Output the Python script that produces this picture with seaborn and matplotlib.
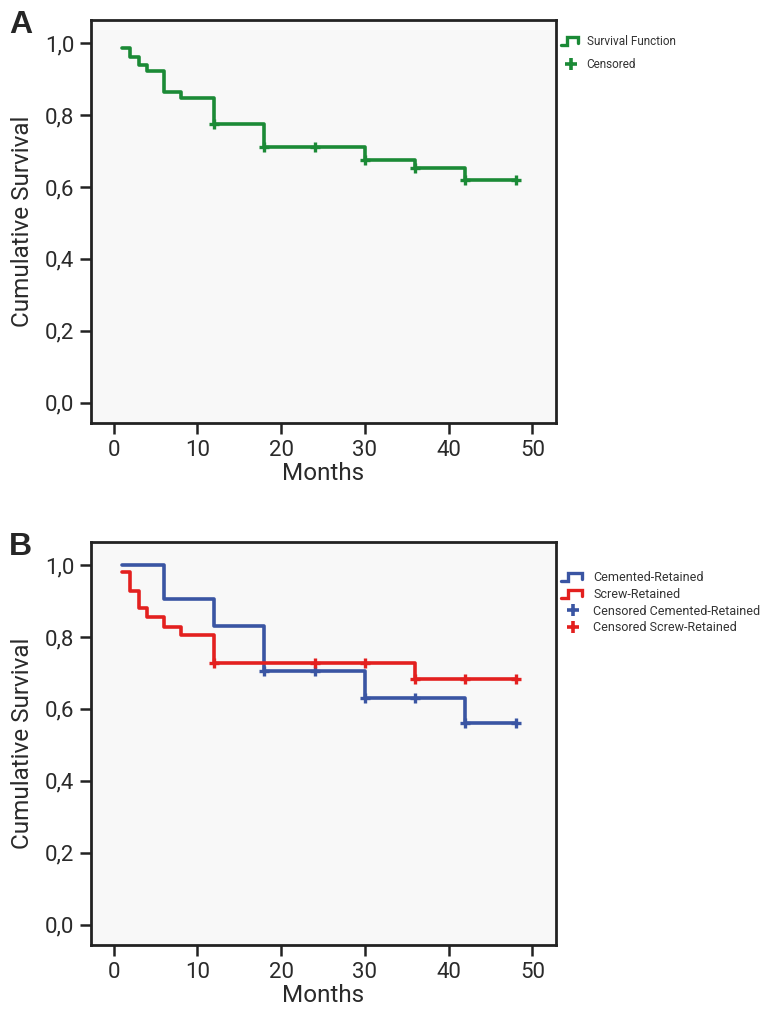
import numpy as np
import pandas as pd
import matplotlib
matplotlib.use("Agg")
import matplotlib.pyplot as plt
import seaborn as sns
from matplotlib.lines import Line2D
from matplotlib.legend_handler import HandlerBase
from matplotlib.ticker import FuncFormatter

# ---------------------------- DATA ------------------------------------

# Panel A: overall survival (step starts, survival after each step)
a_times = [1, 2, 3, 4, 6, 8, 12, 18, 30, 36, 42, 48]
a_surv = [0.985, 0.96, 0.94, 0.923, 0.863, 0.848, 0.775, 0.711, 0.675, 0.654, 0.618, 0.618]
a_censored = [12, 18, 24, 30, 36, 42, 48]

# Panel B: cemented vs screw retained
cem_times = [1, 6, 12, 18, 30, 42, 48]
cem_surv = [1.0, 0.906, 0.83, 0.704, 0.63, 0.56, 0.56]
cem_censored = [18, 24, 30, 36, 42, 48]

scr_times = [1, 2, 3, 4, 6, 8, 12, 36, 48]
scr_surv = [0.981, 0.929, 0.88, 0.855, 0.829, 0.806, 0.728, 0.684, 0.684]
scr_censored = [12, 24, 30, 36, 42, 48]

x_ticks = [0, 10, 20, 30, 40, 50]
y_ticks = [0.0, 0.2, 0.4, 0.6, 0.8, 1.0]

GREEN = "#1b8a36"
BLUE = "#3a55a3"
RED = "#e3201f"
TEXT = "#2a2a2a"
WEIGHT = "normal"


# ---------------------------- HELPERS ---------------------------------


class StepHandler(HandlerBase):
    """Legend icon shaped like a little survival step."""

    def create_artists(self, legend, orig_handle, xdescent, ydescent,
                       width, height, fontsize, trans):
        w, h = width * 0.85, height
        xs = np.array([0, 0.35 * w, 0.35 * w, w, w]) - xdescent
        ys = np.array([0.0, 0.0, 0.95 * h, 0.95 * h, 0.25 * h]) - ydescent
        line = Line2D(xs, ys, color=orig_handle.get_color(), lw=2.4,
                      solid_joinstyle="miter", transform=trans)
        return [line]


def surv_at(times, surv, t):
    idx = np.searchsorted(times, t, side="right") - 1
    return surv[idx]


def draw_curve(ax, times, surv, censored, color):
    df = pd.DataFrame({"Months": times, "Survival": surv})
    sns.lineplot(data=df, x="Months", y="Survival", ax=ax, color=color,
                 lw=2.6, drawstyle="steps-post", estimator=None, sort=False)
    cens = pd.DataFrame({"Months": censored,
                         "Survival": [surv_at(times, surv, t) for t in censored]})
    ax.plot(cens["Months"], cens["Survival"], ls="none", marker="+",
            ms=6.5, mew=2.4, color=color)


def style_axes(ax):
    ax.set_facecolor("#f8f8f8")
    ax.set_xlim(-2.7, 52.8)
    ax.set_ylim(-0.056, 1.064)
    ax.set_xticks(x_ticks)
    ax.set_yticks(y_ticks)
    ax.yaxis.set_major_formatter(FuncFormatter(lambda v, p: f"{v:.1f}".replace(".", ",")))
    ax.tick_params(bottom=True, left=True, direction="out", length=8, width=1.8,
                   labelsize=16, labelcolor=TEXT, color="#222222", pad=4)
    for lab in ax.get_xticklabels() + ax.get_yticklabels():
        lab.set_fontweight(WEIGHT)
    for sp in ax.spines.values():
        sp.set_visible(True)
        sp.set_linewidth(2)
        sp.set_color("#222222")
    ax.set_xlabel("Months", fontsize=17.5, color=TEXT, labelpad=1, fontweight=WEIGHT)
    ax.set_ylabel("Cumulative Survival", fontsize=17.5, color=TEXT, labelpad=8,
                  fontweight=WEIGHT)


# ------------------------------ PLOT ----------------------------------

sns.set_style("white")
plt.rcParams["font.family"] = ["Roboto", "Liberation Sans", "DejaVu Sans"]

fig = plt.figure(figsize=(7.62, 10.10), dpi=100)
ax_a = fig.add_axes([0.1194, 0.5812, 0.6102, 0.399])
ax_b = fig.add_axes([0.1194, 0.0644, 0.6102, 0.399])

# Panel A
draw_curve(ax_a, a_times, a_surv, a_censored, GREEN)
style_axes(ax_a)
handles_a = [Line2D([], [], color=GREEN),
             Line2D([], [], color=GREEN, ls="none", marker="+", ms=8, mew=2.6)]
leg_a = ax_a.legend(handles_a, ["Survival Function", "Censored"],
                    handler_map={handles_a[0]: StepHandler()},
                    loc="upper left", bbox_to_anchor=(1.0, 0.975), frameon=False,
                    prop={"size": 8.5}, handlelength=1.7,
                    handletextpad=0.5, labelspacing=0.9, borderaxespad=0)

# Panel B
draw_curve(ax_b, cem_times, cem_surv, cem_censored, BLUE)
draw_curve(ax_b, scr_times, scr_surv, scr_censored, RED)
style_axes(ax_b)
handles_b = [Line2D([], [], color=BLUE), Line2D([], [], color=RED),
             Line2D([], [], color=BLUE, ls="none", marker="+", ms=8, mew=2.6),
             Line2D([], [], color=RED, ls="none", marker="+", ms=8, mew=2.6)]
leg_b = ax_b.legend(handles_b, ["Cemented-Retained", "Screw-Retained",
                                "Censored Cemented-Retained", "Censored Screw-Retained"],
                    handler_map={handles_b[0]: StepHandler(), handles_b[1]: StepHandler()},
                    loc="upper left", bbox_to_anchor=(1.0, 0.94), frameon=False,
                    prop={"size": 9}, handlelength=2.0,
                    handletextpad=0.6, labelspacing=0.3, borderaxespad=0)

for leg in (leg_a, leg_b):
    for txt in leg.get_texts():
        txt.set_color("#333333")

fig.text(0.012, 0.975, "A", fontsize=23, fontweight="bold", va="center",
         family=["Liberation Sans", "DejaVu Sans"])
fig.text(0.012, 0.458, "B", fontsize=23, fontweight="bold", va="center",
         family=["Liberation Sans", "DejaVu Sans"])

fig.savefig("out.png", dpi=100)
